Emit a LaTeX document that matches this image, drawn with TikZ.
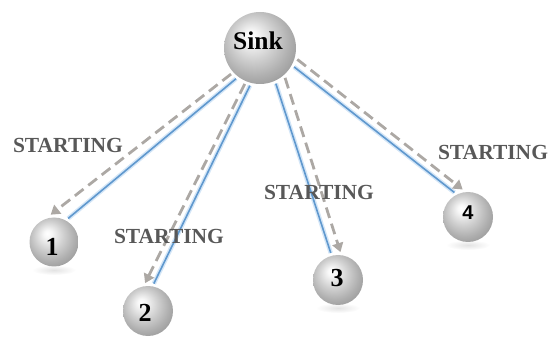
\documentclass[tikz,border=0pt]{standalone}
\usepackage{fontspec}
\setmainfont{Liberation Serif}
\newfontfamily\arialfont{Liberation Sans}
\usetikzlibrary{arrows.meta}

% grey sphere: highlight upper left, darker rim
\pgfdeclareradialshading{orb}{\pgfqpoint{-7bp}{9bp}}{%
  color(0bp)=(white); color(4bp)=(white!94!gray); color(15bp)=(gray!38);
  color(24bp)=(gray!62); color(30bp)=(gray!76); color(50bp)=(gray!80)}

\definecolor{linkblue}{RGB}{95,152,206}
\definecolor{linkglow}{RGB}{212,230,247}
\definecolor{dashgray}{RGB}{172,168,164}
\definecolor{labelgray}{RGB}{88,88,88}

\tikzset{
  orbnode/.style={circle, shading=orb, minimum size=#1, inner sep=0pt, outer sep=3pt},
  bluelink/.style={draw=linkblue, line width=1.6pt,
                   preaction={draw=linkglow, line width=4.5pt}},
  dashlink/.style={draw=dashgray, line width=2.8pt, dash pattern=on 11pt off 6pt,
                   -{Triangle[length=9pt,width=11pt]}},
  tag/.style={font=\fontsize{21.5}{25}\selectfont\bfseries, text=labelgray, inner sep=0pt},
  digit/.style={font=\fontsize{26}{30}\selectfont\bfseries, inner sep=0pt},
  sinktext/.style={font=\fontsize{25.5}{30}\selectfont\bfseries, inner sep=0pt},
  groundshadow/.style={inner color=gray!22, outer color=white}
}

\begin{document}
\begin{tikzpicture}[x=1pt,y=-1pt]
\useasboundingbox (0,0) rectangle (549,339);

% soft shadows beneath the spheres
\shade[groundshadow] (54,270) ellipse (22pt and 5pt);
\shade[groundshadow] (338,308) ellipse (22pt and 5pt);
\shade[groundshadow] (468,245) ellipse (22pt and 5pt);

% spheres
\node[orbnode=72pt] (sink) at (260,48) {};
\node[orbnode=49pt] (n1) at (54,242) {};
\node[orbnode=50pt] (n2) at (148,311) {};
\node[orbnode=50pt] (n3) at (338,280) {};
\node[orbnode=50pt] (n4) at (468,217) {};

% links from the sink
\draw[bluelink] (sink.232) -- (n1.59);
\draw[dashlink] (sink.222) -- (n1.97);
\draw[bluelink] (sink.255) -- (n2.78);
\draw[dashlink] (sink.247) -- (n2.96);
\draw[bluelink] (sink.294) -- (n3.105);
\draw[dashlink] (sink.310) -- (n3.85);
\draw[bluelink] (sink.331) -- (n4.119);
\draw[dashlink] (sink.343) -- (n4.101);

% sphere captions
\node[sinktext] (sinklabel) at (258,41) {Sink};
\node[digit] (d1) at (52,247) {1};
\node[digit] (d2) at (145,313) {2};
\node[digit] (d3) at (337,278) {3};
\node[font=\arialfont\fontsize{20}{24}\selectfont\bfseries, inner sep=0pt] (d4) at (468,213) {4};

% message labels
\node[tag] (s1) at (68,145) {STARTING};
\node[tag] (s2) at (169,236) {STARTING};
\node[tag] (s3) at (319,192) {STARTING};
\node[tag] (s4) at (493,152) {STARTING};
\end{tikzpicture}
\end{document}
